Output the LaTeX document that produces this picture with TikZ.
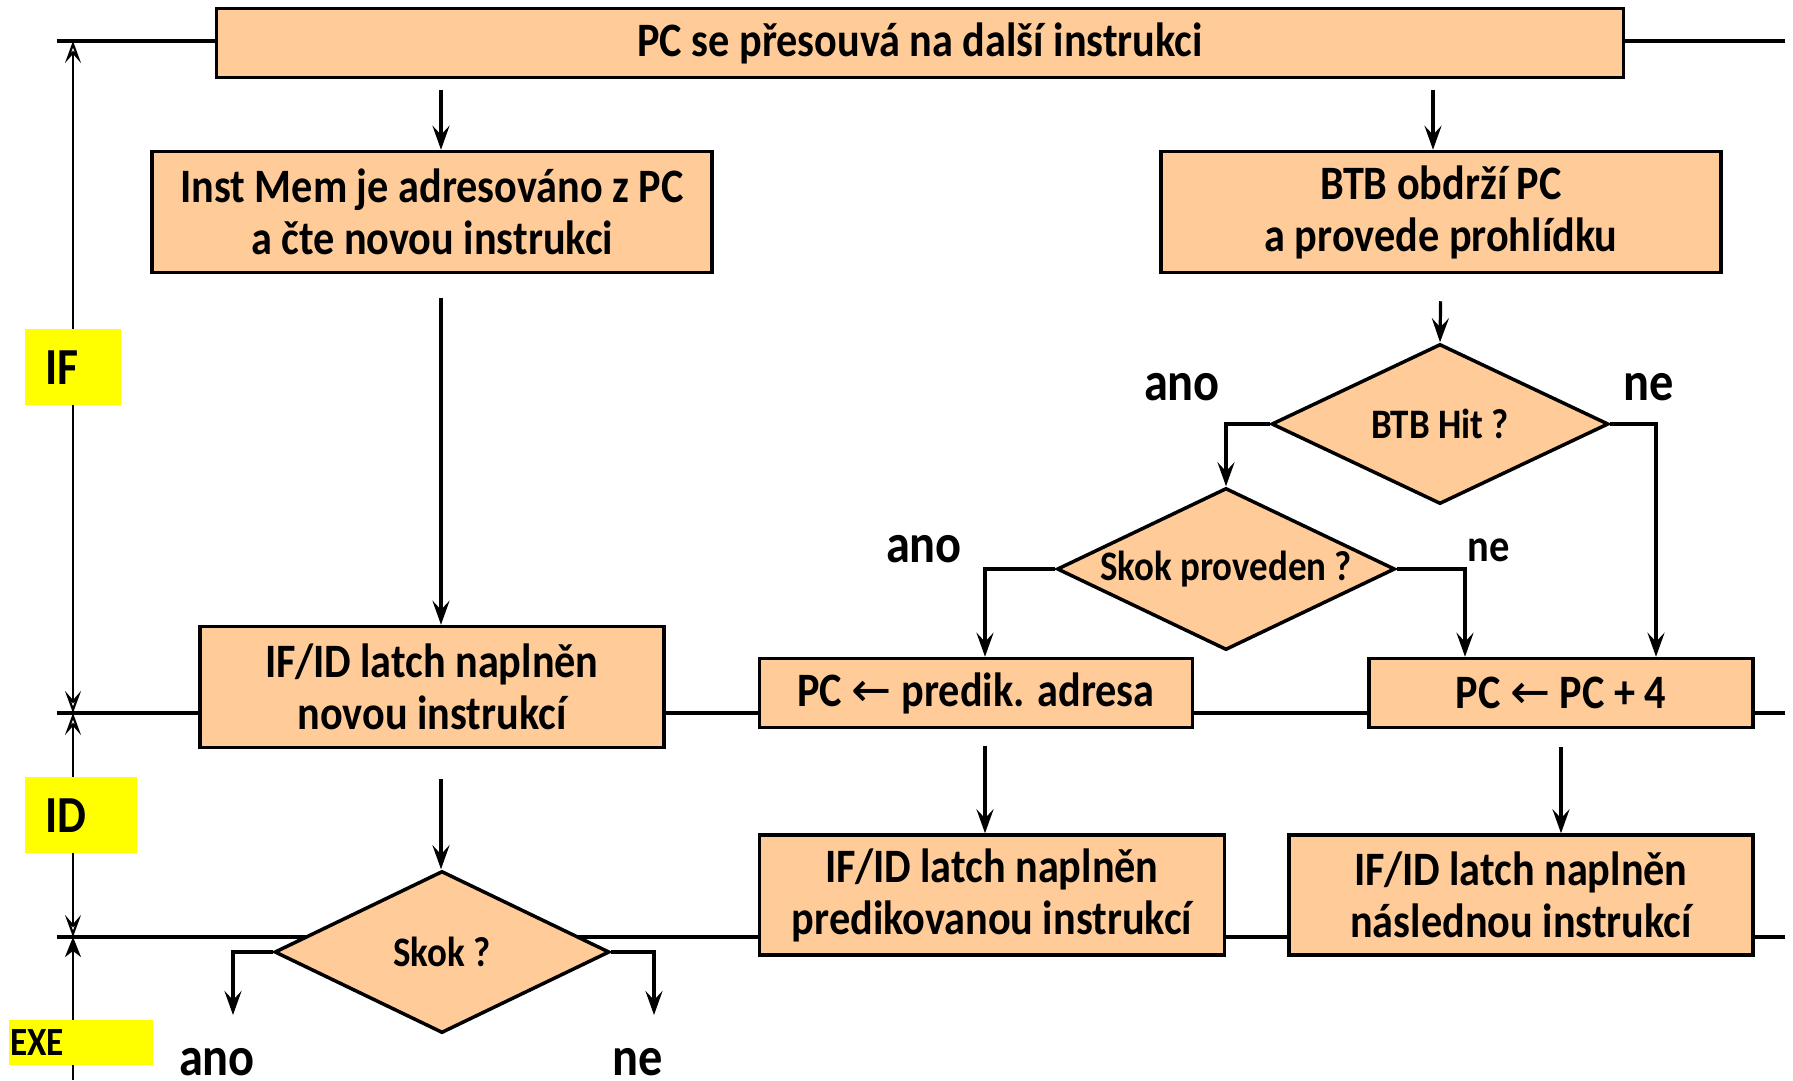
\documentclass[tikz,border=0pt]{standalone}
\usepackage{fontspec}
\setmainfont{Carlito}[FakeStretch=0.88]
\newfontfamily\arrowfont{DejaVu Sans}
\usetikzlibrary{shapes.geometric,arrows.meta}

\definecolor{peach}{RGB}{255,204,153}
\definecolor{stageyellow}{RGB}{255,255,0}

\begin{document}
\begin{tikzpicture}[x=1pt, y=-1pt,
        box/.style={draw=black, fill=peach, line width=3.5pt, inner sep=0pt, align=center, font=\bfseries\fontsize{48}{52}\selectfont},
        decision/.style={diamond, aspect=2.1, draw=black, fill=peach, line width=3.5pt, inner sep=0pt, font=\bfseries\fontsize{42}{46}\selectfont},
        flow/.style={line width=3.2pt, -{Stealth[open, length=24pt, width=17pt, inset=9pt]}},
        answer/.style={font=\bfseries\fontsize{55}{60}\selectfont},
        stage/.style={fill=stageyellow, anchor=north west, align=left, inner ysep=0pt, font=\bfseries\fontsize{52}{56}\selectfont}]
        \useasboundingbox (0,0) rectangle (1793,1080);

        % stage boundaries
        \draw[line width=4pt] (57,41) -- (1785,41);
        \draw[line width=4pt] (57,713) -- (1785,713);
        \draw[line width=4pt] (57,937) -- (1785,937);

        \coordinate (t0) at (73,41);
        \coordinate (t1) at (73,713);
        \coordinate (t2) at (73,937);
        \coordinate (t3) at (73,1080);
        \draw[line width=2.2pt, {Stealth[open, length=22pt, width=16pt, inset=9pt]}-{Stealth[open, length=22pt, width=16pt, inset=9pt]}] (t0) -- (t1);
        \draw[line width=2.2pt, {Stealth[open, length=22pt, width=16pt, inset=9pt]}-{Stealth[open, length=22pt, width=16pt, inset=9pt]}] (t1) -- (t2);
        \draw[line width=2.2pt, -{Stealth[length=20pt, width=16pt, inset=6pt]}] (t3) -- (t2);

        \node[stage, minimum height=76pt, text width=56pt, inner xsep=20pt] (sIF) at (25,329) {IF};
        \node[stage, minimum height=76pt, text width=72pt, inner xsep=20pt] (sID) at (25,777) {ID};
        \node[stage, minimum height=45pt, text width=142pt, inner xsep=1pt, font=\bfseries\fontsize{40}{44}\selectfont] (sEXE) at (9,1020) {EXE};

        % IF
        \node[box, minimum width=1407pt, minimum height=69pt] (top) at (920,43) {PC se přesouvá na další instrukci};
        \node[box, minimum width=560pt, minimum height=121pt] (mem) at (432,212) {Inst Mem je adresováno z PC\\a čte novou instrukci};
        \node[box, minimum width=560pt, minimum height=121pt] (btb) at (1441,212) {BTB obdrží PC\\a provede prohlídku};
        \node[decision, minimum width=337pt, minimum height=160pt] (hit) at (1440,424) {BTB Hit ?};
        \node[decision, minimum width=338pt, minimum height=162pt] (taken) at (1226,569) {Skok proveden ?};
        \node[box, minimum width=464pt, minimum height=121pt] (latch1) at (432,687) {IF/ID latch naplněn\\novou instrukcí};
        \node[box, minimum width=433pt, minimum height=69pt] (pred) at (976,693) {PC {\arrowfont\mdseries ←} predik. adresa};
        \node[box, minimum width=384pt, minimum height=69pt] (pc4) at (1561,693) {PC {\arrowfont\mdseries ←} PC + 4};

        % ID
        \node[box, minimum width=465pt, minimum height=120pt] (latch2) at (992,895) {IF/ID latch naplněn\\predikovanou instrukcí};
        \node[box, minimum width=464pt, minimum height=120pt] (latch3) at (1521,895) {IF/ID latch naplněn\\následnou instrukcí};
        \node[decision, minimum width=335pt, minimum height=162pt] (jump) at (442,952) {Skok ?};

        \node[answer] (hitY) at (1182,387) {ano};
        \node[answer] (hitN) at (1649,387) {ne};
        \node[answer] (takenY) at (924,549) {ano};
        \node[answer, font=\bfseries\fontsize{46}{50}\selectfont] (takenN) at (1489,550) {ne};
        \node[answer] (jumpY) at (217,1062) {ano};
        \node[answer] (jumpN) at (638,1062) {ne};

        \coordinate (outY) at (233,1015);
        \coordinate (outN) at (654,1015);

        \draw[flow, shorten <=11pt] ([xshift=9pt]top.south -| mem.north) -- ([xshift=9pt]mem.north);
        \draw[flow, shorten <=11pt] ([xshift=-8pt]top.south -| btb.north) -- ([xshift=-8pt]btb.north);
        \draw[flow, shorten <=24pt] ([xshift=9pt]mem.south) -- ([xshift=9pt]latch1.north);
        \draw[flow, shorten <=27pt] (btb.south) -- (hit.north);
        \draw[flow] (hit.west) -| (taken.north);
        \draw[flow] (hit.east) -| ([xshift=95pt]pc4.north);
        \draw[flow] (taken.west) -| ([xshift=9pt]pred.north);
        \draw[flow] (taken.east) -| ([xshift=-96pt]pc4.north);
        \draw[flow, shorten <=17pt] ([xshift=9pt]pred.south) -- ([xshift=9pt]pred.south |- latch2.north);
        \draw[flow, shorten <=18pt] (pc4.south) -- (pc4.south |- latch3.north);
        \draw[flow, shorten <=30pt] ([xshift=9pt]latch1.south) -- ([xshift=9pt]latch1.south |- jump.north);
        \draw[flow] (jump.west) -| (outY);
        \draw[flow] (jump.east) -| (outN);
\end{tikzpicture}
\end{document}
